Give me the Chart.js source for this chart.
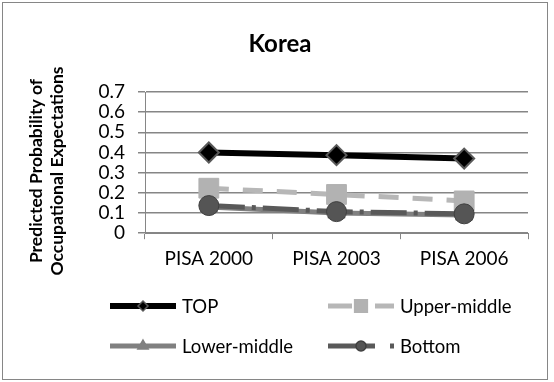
<!DOCTYPE html>
<html>
<head>
<meta charset="utf-8">
<script src="https://cdn.jsdelivr.net/npm/chart.js@4"></script>
<style>
  body { margin: 0; background: #fff; }
  #wrap { position: relative; width: 554px; height: 382px; }
</style>
</head>
<body>
<div id="wrap"><canvas id="chart" width="554" height="382"></canvas></div>
<script>
// Data
const waves = ['PISA 2000', 'PISA 2003', 'PISA 2006'];
const topGroup = [0.40, 0.387, 0.37];
const upperMiddle = [0.223, 0.192, 0.16];
const lowerMiddle = [0.13, 0.10, 0.09];
const bottomGroup = [0.137, 0.107, 0.096];
const seriesNames = ['TOP', 'Upper-middle', 'Lower-middle', 'Bottom'];
const yTicks = [0, 0.1, 0.2, 0.3, 0.4, 0.5, 0.6, 0.7];
const yTitle = ['Predicted Probability of', 'Occupational Expectations'];

const FONT = 'Lato, "Open Sans", sans-serif';

// Legend in two columns under the plot, Excel style, plus title and frame
const legendPlugin = {
    id: 'excelLegend',
    afterDraw(chart) {
        const ctx = chart.ctx;
        const spots = [
            { x: 110, y: 306 }, { x: 328, y: 306 },
            { x: 110, y: 346 }, { x: 328, y: 346 }
        ];
        chart.data.datasets.forEach((ds, i) => {
            const p = spots[i];
            const x1 = p.x, x2 = p.x + (ds.legendLen || 66), mid = p.x + 33;
            ctx.save();
            ctx.strokeStyle = ds.borderColor;
            ctx.lineWidth = ds.borderWidth;
            ctx.setLineDash(ds.legendDash || []);
            ctx.beginPath();
            ctx.moveTo(x1, p.y);
            ctx.lineTo(x2, p.y);
            ctx.stroke();
            ctx.setLineDash([]);
            ctx.fillStyle = ds.pointBackgroundColor;
            ctx.strokeStyle = ds.pointBorderColor;
            ctx.lineWidth = 1.5;
            Chart.helpers.drawPoint(ctx, {
                pointStyle: ds.pointStyle,
                radius: ds.legendRadius,
                borderWidth: 1.5
            }, mid, p.y);
            ctx.fillStyle = '#000';
            ctx.font = '18.5px ' + FONT;
            ctx.textBaseline = 'middle';
            ctx.fillText(ds.label, x1 + 72, p.y + 1);
            ctx.restore();
        });
        ctx.save();
        ctx.strokeStyle = '#868686';
        ctx.lineWidth = 1;
        ctx.strokeRect(2.5, 2.5, 545, 377);
        ctx.fillStyle = '#000';
        ctx.font = 'bold 24px ' + FONT;
        ctx.textAlign = 'center';
        ctx.textBaseline = 'middle';
        ctx.fillText('Korea', 280, 44);
        // rotated y axis title
        ctx.font = 'bold 17.5px ' + FONT;
        ctx.translate(0, 171);
        ctx.rotate(-Math.PI / 2);
        ctx.fillText(yTitle[0], 0, 36);
        ctx.fillText(yTitle[1], 0, 57);
        ctx.restore();
    }
};

new Chart(document.getElementById('chart'), {
    type: 'line',
    data: {
        labels: waves,
        datasets: [
            {
                label: seriesNames[0], data: topGroup, order: 3,
                borderColor: '#000000', borderWidth: 6,
                pointStyle: 'rectRot', pointRadius: 10, legendRadius: 5,
                pointBackgroundColor: '#000000', pointBorderColor: '#595959', pointBorderWidth: 2
            },
            {
                label: seriesNames[1], data: upperMiddle, order: 2,
                borderColor: '#b7b7b7', borderWidth: 5, borderDash: [20, 14],
                legendDash: [24, 23],
                pointStyle: 'rect', pointRadius: 14, legendRadius: 9,
                pointBackgroundColor: '#b2b2b2', pointBorderColor: '#b2b2b2', pointBorderWidth: 1
            },
            {
                label: seriesNames[2], data: lowerMiddle, order: 1,
                borderColor: '#808080', borderWidth: 5,
                pointStyle: 'triangle', pointRadius: 10, legendRadius: 6,
                pointBackgroundColor: '#808080', pointBorderColor: '#808080', pointBorderWidth: 1
            },
            {
                label: seriesNames[3], data: bottomGroup, order: 0,
                borderColor: '#595959', borderWidth: 5, borderDash: [36, 7, 4, 7],
                legendDash: [47, 15, 4, 10], legendLen: 68,
                pointStyle: 'circle', pointRadius: 10, legendRadius: 5,
                pointBackgroundColor: '#555555', pointBorderColor: '#404040', pointBorderWidth: 1
            }
        ]
    },
    options: {
        responsive: false,
        animation: false,
        layout: { padding: { top: 92, right: 26, bottom: 104, left: 20 } },
        plugins: {
            legend: { display: false },
            title: { display: false },
            tooltip: { enabled: false }
        },
        elements: { line: { tension: 0, borderCapStyle: 'butt' } },
        scales: {
            x: {
                offset: true,
                grid: { offset: true, drawOnChartArea: false, drawTicks: true, tickLength: 6, color: '#868686', lineWidth: 1 },
                border: { color: '#868686', width: 1 },
                ticks: { color: '#000', font: { family: FONT, size: 19 }, padding: 8, maxRotation: 0 }
            },
            y: {
                min: 0, max: 0.7,
                afterBuildTicks(scale) { scale.ticks = yTicks.map(v => ({ value: v })); },
                afterFit(scale) { scale.width = 125; },
                grid: { color: '#868686', lineWidth: 1.5, tickLength: 7 },
                border: { color: '#868686', width: 1 },
                ticks: {
                    color: '#000', font: { family: FONT, size: 19 }, padding: 13, autoSkip: false,
                    callback: v => String(Math.round(v * 10) / 10)
                }
            }
        }
    },
    plugins: [legendPlugin]
});
</script>
</body>
</html>
